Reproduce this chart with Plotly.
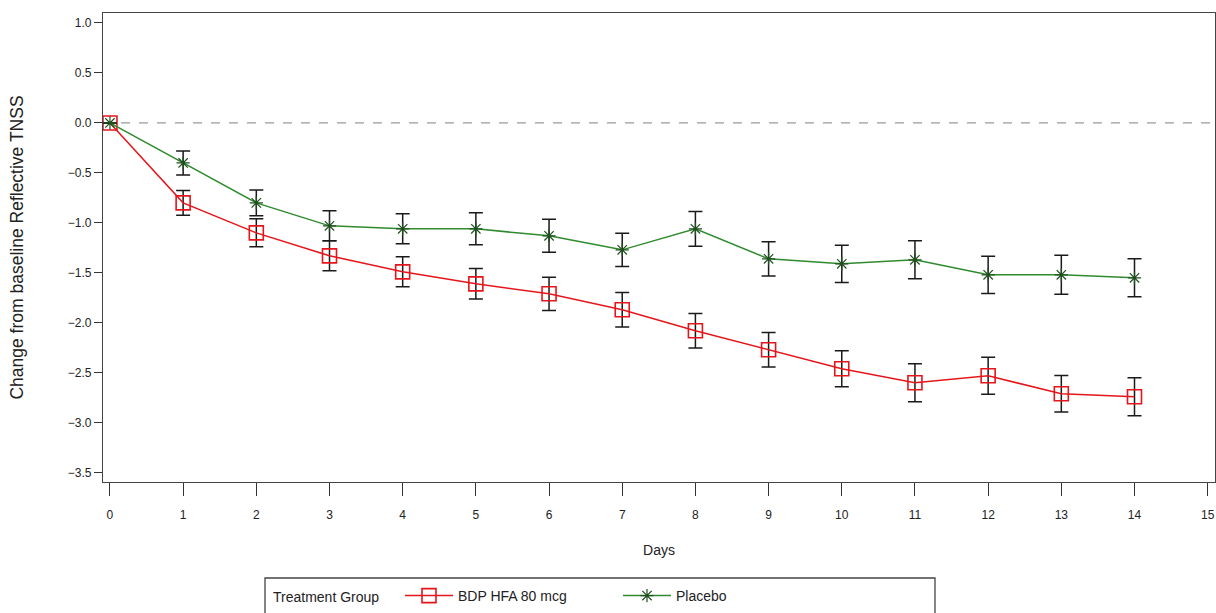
import plotly.graph_objects as go

days = list(range(0, 15))
bdp_mean = [0.0, -0.80, -1.10, -1.33, -1.49, -1.61, -1.71, -1.87, -2.08, -2.27, -2.46, -2.60, -2.53, -2.71, -2.74]
bdp_se = [0.0, 0.125, 0.14, 0.15, 0.15, 0.153, 0.167, 0.172, 0.173, 0.172, 0.18, 0.19, 0.185, 0.183, 0.19]
pla_mean = [0.0, -0.40, -0.80, -1.03, -1.06, -1.06, -1.13, -1.27, -1.06, -1.36, -1.41, -1.37, -1.52, -1.52, -1.55]
pla_se = [0.0, 0.12, 0.13, 0.15, 0.15, 0.16, 0.165, 0.167, 0.173, 0.172, 0.187, 0.19, 0.187, 0.195, 0.19]

x_ticks = list(range(0, 16))
y_ticks = [1.0, 0.5, 0.0, -0.5, -1.0, -1.5, -2.0, -2.5, -3.0, -3.5]
y_labels = ["1.0", "0.5", "0.0", "\u22120.5", "\u22121.0", "\u22121.5", "\u22122.0", "\u22122.5", "\u22123.0", "\u22123.5"]
legend_title = "Treatment Group"

FONT = "Liberation Sans, Arial, sans-serif"
W, H = 1216, 613
L, R, T, B = 103, 1, 13, 131
PW, PH = W - L - R, H - T - B


def px_x(p):
    return (p - L) / PW


def px_y(p):
    return (H - B - p) / PH


fig = go.Figure()

fig.add_trace(go.Scatter(
    x=days, y=bdp_mean, mode="lines+markers", name="BDP HFA 80 mcg",
    line=dict(color="#e5161b", width=1.5),
    marker=dict(symbol="square-open", size=14, color="#e5161b", line=dict(width=1.6, color="#e5161b")),
    error_y=dict(type="data", array=bdp_se, color="#1a1a1a", thickness=1.5, width=7),
))
fig.add_trace(go.Scatter(
    x=days, y=pla_mean, mode="lines+markers", name="Placebo",
    line=dict(color="#2e8b2e", width=1.5),
    marker=dict(symbol="asterisk-open", size=11, color="#1f4f1f", line=dict(width=1.2, color="#1f4f1f")),
    error_y=dict(type="data", array=pla_se, color="#1a1a1a", thickness=1.5, width=7),
))

fig.add_hline(y=0, line=dict(color="#9a9a9a", width=1.2, dash="dash"), layer="below")

# legend frame and title
fig.add_shape(type="rect", xref="paper", yref="paper",
              x0=px_x(265), x1=px_x(935), y0=px_y(578), y1=px_y(640),
              line=dict(color="#444", width=1.3), fillcolor="rgba(0,0,0,0)")
fig.add_annotation(xref="paper", yref="paper", x=px_x(271), y=px_y(597),
                   xanchor="left", yanchor="middle", showarrow=False,
                   text=legend_title, font=dict(size=14, family=FONT, color="#222"))

fig.update_layout(
    width=W, height=H,
    margin=dict(l=L, r=R, t=T, b=B),
    paper_bgcolor="white", plot_bgcolor="white",
    font=dict(family=FONT, size=12, color="#222"),
    showlegend=True,
    legend=dict(
        orientation="h", x=px_x(400), xanchor="left", y=px_y(580), yanchor="top",
        font=dict(size=14), borderwidth=0, bgcolor="rgba(0,0,0,0)",
        entrywidth=155, itemwidth=48,
    ),
    xaxis=dict(
        range=[-0.095, 15.1], tickmode="array", tickvals=x_ticks,
        ticktext=[str(v) for v in x_ticks],
        ticks="outside", ticklen=13, tickcolor="#333", tickwidth=1.3,
        ticklabelstandoff=8,
        showline=True, linecolor="#444", linewidth=1.3, mirror=True,
        showgrid=False, zeroline=False,
        title=dict(text="Days", font=dict(size=14), standoff=24),
        tickfont=dict(size=12),
    ),
    yaxis=dict(
        range=[-3.593, 1.1], tickmode="array", tickvals=y_ticks, ticktext=y_labels,
        ticks="outside", ticklen=8, tickcolor="#333", tickwidth=1.3,
        showline=True, linecolor="#444", linewidth=1.3, mirror=True,
        showgrid=False, zeroline=False,
        title=dict(text="Change from baseline Reflective TNSS", font=dict(size=17.5), standoff=39),
        tickfont=dict(size=12),
    ),
)

fig.write_html("out.html", config={"displayModeBar": False},
               post_script="document.body.style.margin='0';document.body.style.overflow='hidden';")
